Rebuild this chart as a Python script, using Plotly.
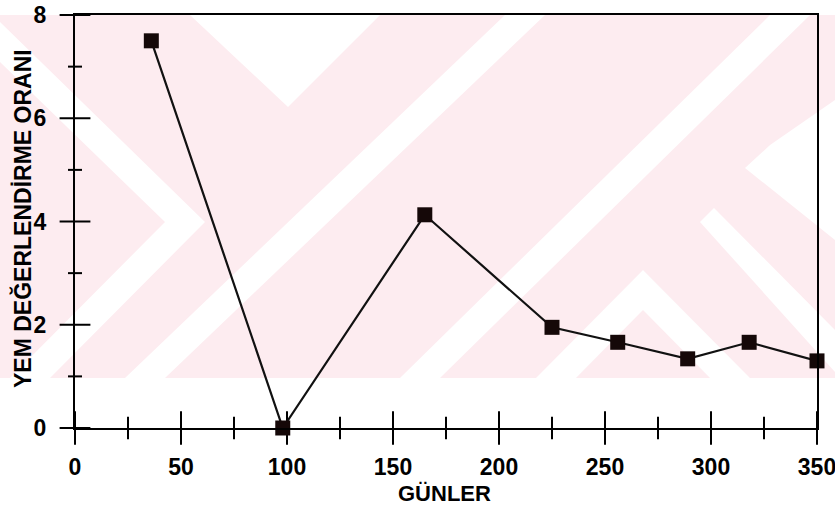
import plotly.graph_objects as go

# ---- data ----
gunler = [36, 98, 165, 225, 256, 289, 318, 350]
oran = [7.5, 0.0, 4.13, 1.95, 1.66, 1.34, 1.66, 1.30]
x_ticks = [0, 50, 100, 150, 200, 250, 300, 350]
x_minor = [25, 75, 125, 175, 225, 275, 325]
y_ticks = [0, 2, 4, 6, 8]
y_minor = [1, 3, 5, 7]

W, H = 835, 507
ML, MR, MT, MB = 75, 18, 15, 79
PW, PH = W - ML - MR, H - MT - MB

def px(xp, yp):
    return (xp - ML) / PW, (H - MB - yp) / PH

def poly(points):
    pts = [px(a, b) for a, b in points]
    return "M " + " L ".join(f"{a:.4f},{b:.4f}" for a, b in pts) + " Z"

PINK = "#fdecf0"
watermark_white = [
    [(190, 15), (380, 15), (288, 107)],
    [(125, 378), (165, 378), (545, 15), (505, 15)],
    [(400, 378), (440, 378), (810, 15), (770, 15)],
    [(0, 22), (205, 222), (50, 378), (10, 378), (165, 222), (0, 62)],
    [(536, 378), (643, 270), (750, 378), (710, 378), (643, 310), (576, 378)],
    [(700, 222), (714, 208), (835, 330), (835, 372)],
    [(745, 168), (770, 145), (835, 100), (835, 240)],
]

shapes = [dict(type="path", path=poly([(0, 15), (835, 15), (835, 378), (0, 378)]),
               xref="paper", yref="paper", fillcolor=PINK, line=dict(width=0), layer="below")]
for p in watermark_white:
    shapes.append(dict(type="path", path=poly(p), xref="paper", yref="paper",
                       fillcolor="white", line=dict(width=0), layer="below"))

FONT = "Liberation Sans"
fig = go.Figure()

# crossing tick marks, drawn as line markers on the axes
def tick_trace(xs, ys, symbol, size):
    return go.Scatter(x=xs, y=ys, mode="markers", cliponaxis=False, showlegend=False,
                      hoverinfo="skip",
                      marker=dict(symbol=symbol, size=size, color="black",
                                  line=dict(color="black", width=2)))

fig.add_trace(tick_trace(x_ticks, [0] * len(x_ticks), "line-ns", 24))
fig.add_trace(tick_trace(x_minor, [0] * len(x_minor), "line-ns", 16))
fig.add_trace(tick_trace([0] * len(y_ticks), y_ticks, "line-ew", 22))
fig.add_trace(tick_trace([0] * len(y_minor), y_minor, "line-ew", 10))

fig.add_trace(go.Scatter(
    x=gunler, y=oran, mode="lines+markers",
    line=dict(color="#111111", width=2.2),
    marker=dict(symbol="square", size=15, color="#150808"),
    showlegend=False, cliponaxis=False,
))

axis_common = dict(showgrid=False, zeroline=False, color="black", automargin=False,
                   ticks="", showline=True, linewidth=2, linecolor="black", mirror=True,
                   ticklabeloverflow="allow")
fig.update_layout(
    width=W, height=H,
    margin=dict(l=ML, r=MR, t=MT, b=MB),
    paper_bgcolor="white", plot_bgcolor="rgba(0,0,0,0)",
    shapes=shapes,
    xaxis=dict(range=[0, 350], tickvals=x_ticks,
               tickfont=dict(family=FONT, size=23, color="black", weight="bold"),
               ticklabelstandoff=17, **axis_common),
    yaxis=dict(range=[0, 8], tickvals=y_ticks,
               tickfont=dict(family=FONT, size=23, color="black", weight="bold"),
               ticklabelstandoff=22, **axis_common),
    annotations=[
        dict(text="<b>GÜNLER</b>", xref="paper", yref="paper", x=px(444, 0)[0], y=px(0, 493)[1],
             xanchor="center", yanchor="middle", showarrow=False, borderpad=0,
             font=dict(family=FONT, size=22, color="black")),
        dict(text="<b>YEM DEĞERLENDİRME ORANI</b>", xref="paper", yref="paper",
             x=px(22, 0)[0], y=px(0, 219)[1], textangle=-90,
             xanchor="center", yanchor="middle", showarrow=False,
             font=dict(family=FONT, size=23, color="black")),
    ],
)
fig.write_html("out.html", config={"displayModeBar": False},
               post_script="document.body.style.margin='0';document.body.style.overflow='hidden';")
